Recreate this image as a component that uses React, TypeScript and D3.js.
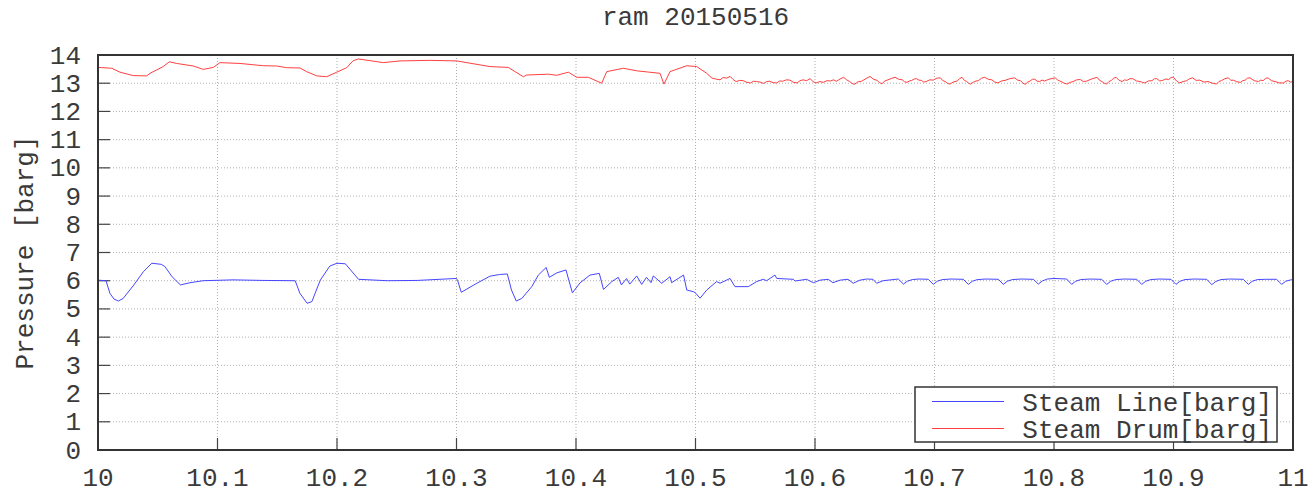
import React, { useEffect } from "react";
import * as d3 from "d3";

const title = "ram 20150516";
const yAxisLabel = "Pressure [barg]";
const xTickValues = [10, 10.1, 10.2, 10.3, 10.4, 10.5, 10.6, 10.7, 10.8, 10.9, 11];
const xTickLabels = ["10", "10.1", "10.2", "10.3", "10.4", "10.5", "10.6", "10.7", "10.8", "10.9", "11"];
const yTickValues = [0, 1, 2, 3, 4, 5, 6, 7, 8, 9, 10, 11, 12, 13, 14];
const seriesNames = ["Steam Line[barg]", "Steam Drum[barg]"];
const seriesColors = ["#4646ff", "#ff4040"];

const steamLine: [number, number][] = [
  [10.0, 6.02], [10.0067, 6.0], [10.01, 5.55], [10.0134, 5.35], [10.017, 5.28], [10.021, 5.37],
  [10.03, 5.85], [10.038, 6.32], [10.045, 6.62], [10.053, 6.58], [10.056, 6.5], [10.062, 6.14],
  [10.069, 5.85], [10.077, 5.93], [10.088, 6.0], [10.113, 6.03], [10.138, 6.01], [10.165, 6.0],
  [10.169, 5.55], [10.175, 5.2], [10.179, 5.26], [10.186, 6.02], [10.194, 6.52], [10.2, 6.62],
  [10.207, 6.6], [10.218, 6.05], [10.242, 6.0], [10.267, 6.01], [10.3, 6.08], [10.301, 6.0],
  [10.304, 5.59], [10.317, 5.91], [10.328, 6.16], [10.336, 6.22], [10.3425, 6.24], [10.346, 5.67],
  [10.35, 5.28], [10.3546, 5.37], [10.363, 5.79], [10.3685, 6.2], [10.375, 6.47], [10.3777, 6.12],
  [10.384, 6.28], [10.3916, 6.38], [10.397, 5.57], [10.4033, 5.92], [10.4117, 6.2], [10.4195, 6.26],
  [10.423, 5.69], [10.43, 5.97], [10.4354, 6.12], [10.438, 5.85], [10.4423, 6.08], [10.445, 5.88],
  [10.4508, 6.17], [10.455, 5.87], [10.459, 6.12], [10.4628, 5.93], [10.4647, 6.17], [10.4717, 5.91],
  [10.4787, 6.14], [10.48, 5.93], [10.49, 6.2], [10.4927, 5.67], [10.4982, 5.61], [10.4996, 5.58],
  [10.5038, 5.38], [10.5094, 5.67], [10.5177, 5.97], [10.5205, 5.91], [10.5289, 6.08], [10.533, 5.79],
  [10.5442, 5.79], [10.5512, 5.97], [10.5567, 6.05], [10.5595, 6.0], [10.5665, 6.2], [10.568, 6.08],
  [10.5818, 6.05], [10.5833, 5.99], [10.593, 6.05], [10.5986, 5.93], [10.6042, 6.02], [10.611, 6.05],
  [10.615, 5.93], [10.621, 6.02], [10.6276, 6.05], [10.632, 5.91], [10.6376, 6.02], [10.6433, 6.06],
  [10.6485, 6.05], [10.6516, 5.91], [10.657, 6.0], [10.6697, 6.06], [10.674, 5.88], [10.6772, 5.98],
  [10.6814, 6.04], [10.687, 6.06], [10.6948, 6.05], [10.699, 5.87], [10.7023, 5.98], [10.7065, 6.04],
  [10.7138, 6.06], [10.7241, 6.05], [10.7283, 5.87], [10.7316, 5.98], [10.7358, 6.04], [10.743, 6.06],
  [10.7534, 6.05], [10.7576, 5.87], [10.7609, 5.98], [10.7651, 6.04], [10.7725, 6.06], [10.7827, 6.05],
  [10.7869, 5.88], [10.7902, 5.99], [10.7944, 6.06], [10.8, 6.08], [10.8106, 6.06], [10.8148, 5.87],
  [10.8181, 5.98], [10.8223, 6.04], [10.83, 6.06], [10.8399, 6.05], [10.8441, 5.87], [10.8474, 5.98],
  [10.8516, 6.04], [10.859, 6.06], [10.8692, 6.05], [10.8734, 5.87], [10.8767, 5.98], [10.8809, 6.04],
  [10.888, 6.06], [10.8979, 6.05], [10.9021, 5.87], [10.9054, 5.98], [10.9096, 6.04], [10.917, 6.06],
  [10.9278, 6.05], [10.932, 5.86], [10.9353, 5.97], [10.9395, 6.04], [10.947, 6.06], [10.9584, 6.05],
  [10.9626, 5.87], [10.9659, 5.98], [10.9701, 6.04], [10.977, 6.05], [10.9863, 6.05], [10.9905, 5.87],
  [10.9938, 5.98], [10.998, 6.03], [11.0, 6.03],
];

const steamDrumHead: [number, number][] = [
  [10.0, 13.56], [10.0115, 13.53], [10.0184, 13.39], [10.0295, 13.27], [10.0408, 13.26], [10.0435, 13.35],
  [10.0546, 13.59], [10.0597, 13.76], [10.0659, 13.7], [10.0797, 13.61], [10.0881, 13.49], [10.0965, 13.56],
  [10.1021, 13.73], [10.1188, 13.7], [10.1383, 13.62], [10.1495, 13.61], [10.1579, 13.55], [10.169, 13.54],
  [10.1746, 13.41], [10.183, 13.26], [10.1914, 13.23], [10.1997, 13.39], [10.2081, 13.55], [10.2136, 13.8],
  [10.2178, 13.86], [10.2276, 13.8], [10.2387, 13.73], [10.2527, 13.79], [10.2778, 13.81], [10.3002, 13.79],
  [10.3197, 13.65], [10.328, 13.59], [10.3433, 13.56], [10.3559, 13.23], [10.3587, 13.29], [10.3768, 13.32],
  [10.3838, 13.28], [10.3936, 13.39], [10.4006, 13.21], [10.4103, 13.21], [10.4215, 13.0], [10.4257, 13.41],
  [10.4396, 13.53], [10.4508, 13.44], [10.4703, 13.35], [10.4736, 12.97], [10.4787, 13.41], [10.4927, 13.62],
  [10.501, 13.59], [10.5094, 13.35], [10.5138, 13.18],
];

const steamDrumTail: [number, number][] = [
  [10.518, 13.14], [10.5205, 13.12], [10.523, 13.2], [10.526, 13.18], [10.529, 13.24], [10.5315, 13.13],
  [10.534, 13.06], [10.537, 13.1], [10.54, 13.09], [10.543, 13.03], [10.546, 13.01], [10.5485, 13.07],
  [10.551, 13.06], [10.554, 13.04], [10.557, 12.99], [10.5595, 13.06], [10.562, 13.07], [10.565, 13.02],
  [10.568, 13.01], [10.5705, 13.08], [10.573, 13.07], [10.576, 13.12], [10.579, 13.11], [10.582, 13.03],
  [10.585, 13.01], [10.5875, 13.09], [10.59, 13.12], [10.593, 13.09], [10.596, 13.16], [10.5985, 13.05],
  [10.601, 13.01], [10.604, 13.06], [10.607, 13.03], [10.61, 13.09], [10.613, 13.08], [10.6155, 13.12],
  [10.618, 13.07], [10.621, 13.15], [10.624, 13.21], [10.6265, 13.12], [10.629, 13.06], [10.631, 12.99],
  [10.633, 12.96], [10.636, 13.05], [10.639, 13.07], [10.6425, 13.16], [10.646, 13.24], [10.649, 13.14],
  [10.652, 13.1], [10.654, 13.02], [10.656, 12.98], [10.6585, 13.08], [10.661, 13.12], [10.664, 13.17],
  [10.667, 13.21], [10.67, 13.14], [10.673, 13.12], [10.675, 13.05], [10.677, 13.03], [10.679, 13.08],
  [10.681, 13.1], [10.683, 13.15], [10.685, 13.16], [10.687, 13.11], [10.689, 13.1], [10.691, 13.04],
  [10.693, 13.06], [10.696, 13.12], [10.699, 13.11], [10.702, 13.18], [10.705, 13.19], [10.707, 13.09],
  [10.709, 13.06], [10.711, 12.99], [10.713, 12.97], [10.716, 13.05], [10.719, 13.08], [10.721, 13.16],
  [10.723, 13.21], [10.725, 13.1], [10.727, 13.06], [10.7285, 13.0], [10.73, 12.97], [10.7335, 13.06],
  [10.737, 13.1], [10.7395, 13.18], [10.742, 13.21], [10.745, 13.14], [10.748, 13.12], [10.7505, 13.04],
  [10.753, 13.01], [10.756, 13.08], [10.759, 13.1], [10.763, 13.16], [10.767, 13.19], [10.7695, 13.11],
  [10.772, 13.09], [10.774, 13.0], [10.776, 12.96], [10.778, 13.04], [10.78, 13.08], [10.782, 13.14],
  [10.784, 13.14], [10.786, 13.07], [10.788, 13.06], [10.79, 13.11], [10.792, 13.08], [10.7965, 13.15],
  [10.801, 13.19], [10.8035, 13.1], [10.806, 13.06], [10.8085, 13.0], [10.811, 12.97], [10.8135, 13.03],
  [10.816, 13.06], [10.819, 13.12], [10.822, 13.13], [10.8245, 13.06], [10.827, 13.07], [10.8315, 13.15],
  [10.836, 13.21], [10.838, 13.11], [10.84, 13.06], [10.842, 13.0], [10.844, 12.97], [10.846, 13.06],
  [10.848, 13.1], [10.85, 13.18], [10.852, 13.21], [10.8545, 13.1], [10.857, 13.06], [10.859, 13.12],
  [10.861, 13.1], [10.8635, 13.16], [10.866, 13.16], [10.869, 13.08], [10.872, 13.06], [10.874, 13.03],
  [10.876, 13.01], [10.879, 13.08], [10.882, 13.09], [10.884, 13.16], [10.886, 13.16], [10.8885, 13.08],
  [10.891, 13.1], [10.8935, 13.15], [10.896, 13.13], [10.898, 13.2], [10.9, 13.21], [10.9025, 13.08],
  [10.905, 13.01], [10.908, 13.06], [10.911, 13.09], [10.9135, 13.16], [10.916, 13.19], [10.919, 13.1],
  [10.922, 13.11], [10.9255, 13.04], [10.929, 13.06], [10.9325, 13.0], [10.936, 12.97], [10.938, 13.06],
  [10.94, 13.09], [10.943, 13.16], [10.946, 13.19], [10.948, 13.1], [10.95, 13.11], [10.953, 13.05],
  [10.956, 13.03], [10.958, 13.09], [10.96, 13.11], [10.962, 13.18], [10.964, 13.19], [10.9675, 13.09],
  [10.971, 13.06], [10.973, 13.11], [10.975, 13.09], [10.977, 13.17], [10.979, 13.19], [10.982, 13.09],
  [10.985, 13.06], [10.9885, 13.01], [10.992, 13.01], [10.994, 13.07], [10.996, 13.09], [10.998, 13.04],
  [11.0, 13.05],
];

const steamDrum: [number, number][] = steamDrumHead.concat(steamDrumTail);

const W = 1312;
const H = 494;
const M = { left: 98, right: 1293, top: 55, bottom: 450 };
const FONT = "'Liberation Mono', 'DejaVu Sans Mono', monospace";
const FS = 26;
const TXT = "#3a3a3a";

export default function App() {
  useEffect(() => {
    document.body.style.margin = "0";
  }, []);

  const x = d3.scaleLinear().domain([10, 11]).range([M.left, M.right]);
  const y = d3.scaleLinear().domain([0, 14]).range([M.bottom, M.top]);
  const line = d3
    .line<[number, number]>()
    .x((d) => x(d[0]))
    .y((d) => y(d[1]));

  const lg = { x0: 915, x1: 1277, y0: 387, y1: 442 };

  return (
    <svg width={W} height={H} style={{ display: "block", background: "#fff" }}>
      <g stroke="#b0b0b0" strokeWidth={1} strokeDasharray="1,2">
        {xTickValues.slice(1, -1).map((v) => (
          <line key={"gx" + v} x1={x(v)} x2={x(v)} y1={M.top} y2={M.bottom} />
        ))}
        {yTickValues.slice(1, -1).map((v) => (
          <line key={"gy" + v} x1={M.left} x2={M.right} y1={y(v)} y2={y(v)} />
        ))}
      </g>
      <g stroke="#444" strokeWidth={1.2}>
        {xTickValues.slice(1, -1).map((v) => (
          <line key={"tx" + v} x1={x(v)} x2={x(v)} y1={M.bottom} y2={M.bottom - 12} />
        ))}
        {yTickValues.slice(1, -1).map((v) => (
          <line key={"ty" + v} x1={M.left} x2={M.left + 12} y1={y(v)} y2={y(v)} />
        ))}
      </g>
      <path d={line(steamLine) || ""} fill="none" stroke={seriesColors[0]} strokeWidth={1} />
      <path d={line(steamDrum) || ""} fill="none" stroke={seriesColors[1]} strokeWidth={1} />
      <rect
        x={M.left}
        y={M.top}
        width={M.right - M.left}
        height={M.bottom - M.top}
        fill="none"
        stroke="#333"
        strokeWidth={2}
      />
      <g fontFamily={FONT} fontSize={FS} fill={TXT}>
        {xTickValues.map((v, i) => (
          <text key={"lx" + v} x={x(v)} y={486} textAnchor="middle">
            {xTickLabels[i]}
          </text>
        ))}
        {yTickValues.map((v) => (
          <text key={"ly" + v} x={81} y={y(v) + 8.5} textAnchor="end">
            {v}
          </text>
        ))}
        <text x={(M.left + M.right) / 2} y={25} textAnchor="middle">
          {title}
        </text>
        <text transform={`translate(33,${(M.top + M.bottom) / 2}) rotate(-90)`} textAnchor="middle">
          {yAxisLabel}
        </text>
      </g>
      <rect x={lg.x0} y={lg.y0} width={lg.x1 - lg.x0} height={lg.y1 - lg.y0} fill="#fff" stroke="#333" strokeWidth={1.5} />
      {seriesNames.map((n, i) => {
        const cy = 401.5 + i * 27;
        return (
          <g key={n}>
            <line x1={932} x2={1004} y1={cy} y2={cy} stroke={seriesColors[i]} strokeWidth={1} />
            <text x={1272} y={cy + 9} textAnchor="end" fontFamily={FONT} fontSize={FS} fill={TXT}>
              {n}
            </text>
          </g>
        );
      })}
    </svg>
  );
}
